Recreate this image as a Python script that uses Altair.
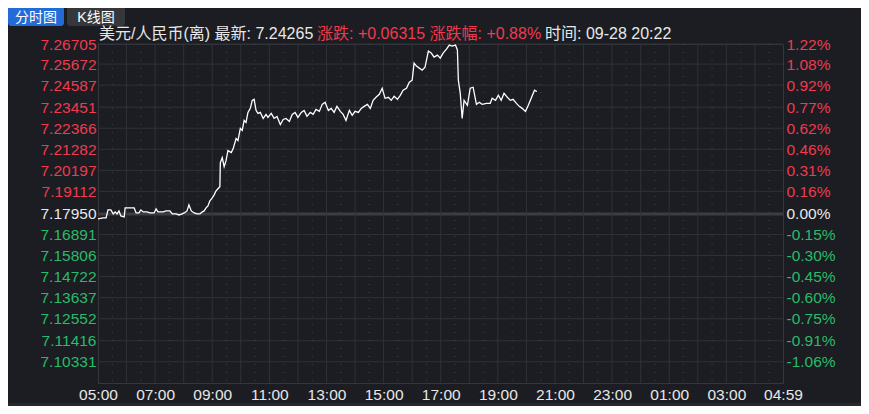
import altair as alt
import pandas as pd

# ---------------- data ----------------
BASE = 7.17950
price_labels = [7.26705, 7.25672, 7.24587, 7.23451, 7.22366, 7.21282, 7.20197, 7.19112,
                7.17950, 7.16891, 7.15806, 7.14722, 7.13637, 7.12552, 7.11416, 7.10331]
pct_labels = ["1.22%", "1.08%", "0.92%", "0.77%", "0.62%", "0.46%", "0.31%", "0.16%",
              "0.00%", "-0.15%", "-0.30%", "-0.45%", "-0.60%", "-0.75%", "-0.91%", "-1.06%"]
time_ticks = [0, 120, 240, 360, 480, 600, 720, 840, 960, 1080, 1200, 1320, 1439]
time_labels = ["05:00", "07:00", "09:00", "11:00", "13:00", "15:00", "17:00",
               "19:00", "21:00", "23:00", "01:00", "03:00", "04:59"]

# minutes after 05:00 and price
minutes = [0, 11, 17, 21, 27, 32, 36, 40, 44, 48, 55, 57, 76, 80, 86, 90, 95, 103, 109, 118,
           122, 126, 137, 143, 151, 156, 164, 170, 177, 181, 187, 191, 196, 202, 208, 214, 219,
           223, 227, 231, 235, 240, 244, 248, 252, 256, 257, 261, 265, 269, 273, 280, 284, 290,
           294, 299, 303, 307, 311, 315, 320, 324, 328, 332, 336, 341, 347, 353, 357, 364, 370,
           376, 383, 389, 395, 402, 408, 414, 420, 427, 433, 439, 446, 452, 458, 465, 471, 477,
           484, 490, 496, 502, 509, 515, 521, 528, 534, 540, 547, 553, 559, 566, 572, 578, 584,
           591, 597, 603, 610, 616, 622, 629, 635, 641, 648, 654, 660, 664, 669, 675, 681, 687,
           694, 700, 706, 713, 719, 725, 732, 738, 744, 751, 755, 757, 761, 765, 769, 776, 782,
           788, 795, 801, 807, 816, 824, 828, 835, 841, 847, 853, 860, 866, 872, 879, 885, 891,
           898, 904, 910, 917, 921, 922]
prices = [7.17691, 7.17743, 7.17743, 7.18157, 7.18157, 7.17950, 7.18054, 7.17950, 7.18105,
          7.17846, 7.17795, 7.18261, 7.18261, 7.18002, 7.18002, 7.18157, 7.18054, 7.18054,
          7.18002, 7.18002, 7.18209, 7.18054, 7.18054, 7.18105, 7.18105, 7.17950, 7.17950,
          7.17898, 7.17950, 7.18002, 7.18105, 7.18416, 7.18105, 7.18002, 7.17950, 7.17950,
          7.18054, 7.18105, 7.18261, 7.18364, 7.18623, 7.18779, 7.18934, 7.19141, 7.19245,
          7.19349, 7.20592, 7.20851, 7.20385, 7.20695, 7.21213, 7.21110, 7.21317, 7.21835,
          7.21731, 7.22353, 7.22249, 7.22767, 7.22664, 7.23182, 7.23389, 7.23803, 7.23855,
          7.23285, 7.23130, 7.23182, 7.22871, 7.23078, 7.22923, 7.23130, 7.22871, 7.22975,
          7.22560, 7.22819, 7.22871, 7.22716, 7.23078, 7.23182, 7.22923, 7.23182, 7.23285,
          7.22975, 7.23182, 7.23078, 7.23337, 7.23234, 7.23596, 7.23700, 7.23285, 7.23389,
          7.23182, 7.23493, 7.23234, 7.23078, 7.22767, 7.23285, 7.23026, 7.23234, 7.23182,
          7.23389, 7.23493, 7.23596, 7.23389, 7.23803, 7.23959, 7.24114, 7.24425, 7.23907,
          7.23959, 7.23803, 7.24011, 7.23855, 7.24062, 7.24321, 7.24425, 7.24736, 7.24839,
          7.25720, 7.25565, 7.25461, 7.25357, 7.25513, 7.26342, 7.26238, 7.26031, 7.26134,
          7.25979, 7.26238, 7.26445, 7.26652, 7.26601, 7.26652, 7.26393, 7.24839, 7.24166,
          7.22871, 7.23803, 7.23544, 7.24425, 7.24477, 7.23596, 7.23700, 7.23596, 7.23648,
          7.23648, 7.23907, 7.23803, 7.24062, 7.23803, 7.24166, 7.23959, 7.23803, 7.23855,
          7.23648, 7.23493, 7.23389, 7.23234, 7.23544, 7.23907, 7.24321, 7.24270, 7.24265]

header_name = "美元/人民币(离) 最新: 7.24265"
header_change = "涨跌: +0.06315 涨跌幅: +0.88%"
header_time = "时间: 09-28 20:22"
tab_labels = ["分时图", "K线图"]

# ---------------- style ----------------
BG = "#1b1d22"
GRID = "#303237"
RED = "#f03a4e"
GREEN = "#28bb6a"
WHITE = "#e8e8e8"
FONT = "Liberation Sans, Arial, Noto Sans CJK SC"
W, H = 685, 339
Y_DOMAIN = [7.09240, 7.26705]
X_DOMAIN = [0, 1439]

xs = alt.Scale(domain=X_DOMAIN, nice=False, zero=False)
ys = alt.Scale(domain=Y_DOMAIN, nice=False, zero=False)

line_df = pd.DataFrame({"m": minutes, "price": prices})
grid_df = pd.DataFrame({"price": [p for p in price_labels if p != BASE]})
zero_df = pd.DataFrame({"price": [BASE]})
vsolid_df = pd.DataFrame({"m": list(range(60, 1440, 60))})
vdot_df = pd.DataFrame({"m": list(range(30, 1440, 60))})
right_df = pd.DataFrame({"price": price_labels, "pct": pct_labels})

price_int = [round(p * 100000) for p in price_labels]
color_expr = (f"abs(datum.value - {BASE}) < 0.000001 ? '{WHITE}' : "
              f"(datum.value > {BASE} ? '{RED}' : '{GREEN}')")
pct_expr = f"{pct_labels}[indexof({price_int}, round(datum.value * 100000))]"
time_expr = f"{time_labels}[indexof({time_ticks}, round(datum.value))]"

hgrid = alt.Chart(grid_df).mark_rule(color=GRID, strokeWidth=1).encode(
    y=alt.Y("price:Q", scale=ys, axis=None))
zero_line = alt.Chart(zero_df).mark_rule(color="#3c3d42", strokeWidth=3).encode(
    y=alt.Y("price:Q", scale=ys, axis=None))
vsolid = alt.Chart(vsolid_df).mark_rule(color=GRID, strokeWidth=1).encode(
    x=alt.X("m:Q", scale=xs, axis=None))
vdot = alt.Chart(vdot_df).mark_rule(color="#45474d", strokeWidth=1, strokeDash=[1, 7]).encode(
    x=alt.X("m:Q", scale=xs, axis=None))

line = alt.Chart(line_df).mark_line(color="#ffffff", strokeWidth=1.3).encode(
    x=alt.X("m:Q", scale=xs, title=None,
            axis=alt.Axis(orient="bottom", values=time_ticks, labelExpr=time_expr,
                          grid=False, domain=False, ticks=False, labelFlush=False,
                          labelOverlap=False, labelPadding=4, labelColor=WHITE,
                          labelFontSize=15.5, labelFont=FONT)),
    y=alt.Y("price:Q", scale=ys, title=None,
            axis=alt.Axis(orient="left", values=price_labels, format=".5f", grid=False,
                          domain=False, ticks=False, labelPadding=2, labelOverlap=False,
                          labelColor={"expr": color_expr}, labelFontSize=15.5,
                          labelFont=FONT)),
)

right_axis = alt.Chart(right_df).mark_point(opacity=0).encode(
    y=alt.Y("price:Q", scale=ys, title=None,
            axis=alt.Axis(orient="right", values=price_labels, labelExpr=pct_expr, grid=False,
                          domain=False, ticks=False, labelPadding=3, labelOverlap=False,
                          labelColor={"expr": color_expr}, labelFontSize=15.5,
                          labelFont=FONT)))

one = pd.DataFrame({"a": [0]})


def txt(text, x, y, color, size=16, align="left"):
    return alt.Chart(pd.DataFrame({"t": [text]})).mark_text(
        align=align, baseline="middle", color=color, fontSize=size, font=FONT).encode(
        x=alt.value(x), y=alt.value(y), text="t:N")


tab1 = alt.Chart(one).mark_rect(color="#236bd6", cornerRadius=3).encode(
    x=alt.value(-90), x2=alt.value(-34), y=alt.value(-40), y2=alt.value(-18))
tab2 = alt.Chart(one).mark_rect(color="#35373d", cornerRadius=3).encode(
    x=alt.value(-31), x2=alt.value(27), y=alt.value(-40), y2=alt.value(-18))
bottom_band = alt.Chart(one).mark_rect(color="#26282d").encode(
    x=alt.value(-100), x2=alt.value(W + 90), y=alt.value(H + 20), y2=alt.value(H + 30))

chart = alt.layer(
    hgrid, zero_line, vsolid, vdot, line, right_axis,
    tab1, tab2, bottom_band,
    txt(tab_labels[0], -62, -26.5, "#ffffff", 14, "center"),
    txt(tab_labels[1], -2, -26.5, "#ffffff", 14, "center"),
    txt(header_name, 1, -10, WHITE),
    txt(header_change, 219, -10, RED),
    txt(header_time, 447, -10, WHITE),
).resolve_axis(x="independent", y="independent").properties(
    width=W, height=H,
    padding={"left": 90, "top": 36, "right": 78, "bottom": 23},
    autosize=alt.AutoSizeParams(type="none"),
    background=BG,
).configure_view(stroke="#35373c", strokeWidth=1)

chart.save("out.html", embed_options={"renderer": "svg", "actions": False})
